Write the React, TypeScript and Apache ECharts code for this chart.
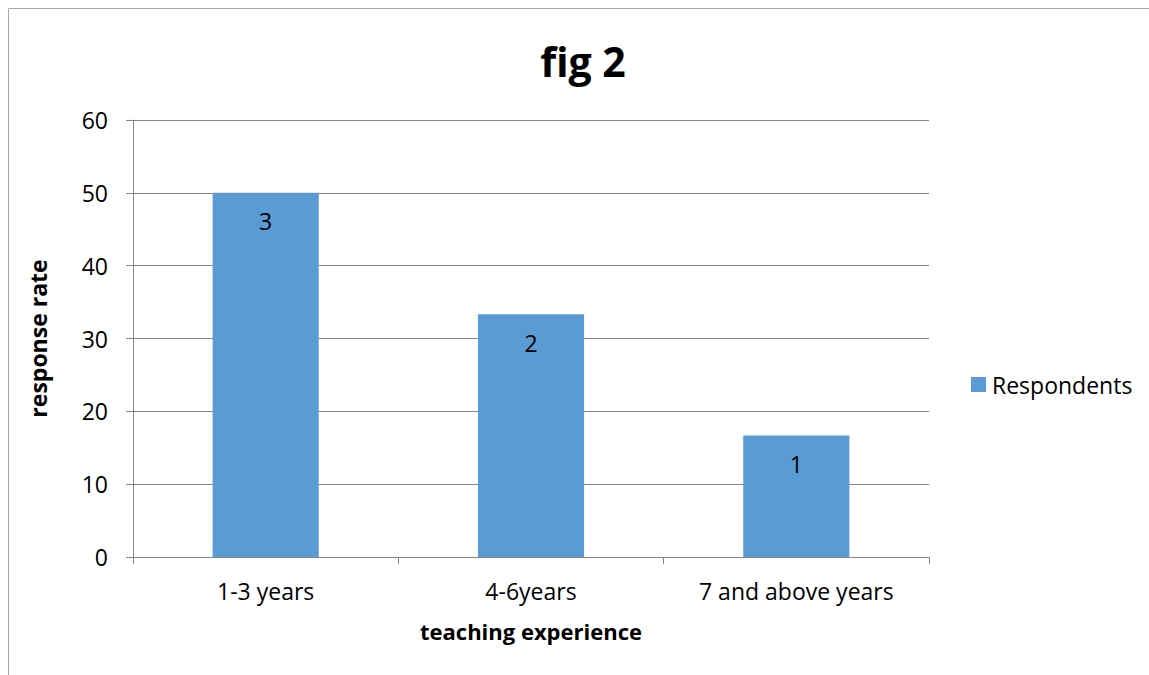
import React, { useEffect, useRef } from "react";
import * as echarts from "echarts";

const categories = ["1-3 years", "4-6years", "7 and above years"];
const responseRate = [50, 33.33, 16.67];
const respondents = [3, 2, 1];
const seriesName = "Respondents";
const titleText = "fig 2";
const xName = "teaching experience";
const yName = "response rate";

const FONT = "'Open Sans', 'Noto Sans', sans-serif";

export default function App() {
  const ref = useRef<HTMLDivElement>(null);
  useEffect(() => {
    const chart = echarts.init(ref.current!, undefined, { renderer: "svg" });
    chart.setOption({
      animation: false,
      backgroundColor: "#ffffff",
      textStyle: { fontFamily: FONT },
      title: {
        text: titleText,
        left: 578,
        top: 35,
        textAlign: "center",
        textStyle: { fontSize: 41, fontWeight: "bold", color: "#000", fontFamily: FONT },
      },
      graphic: [
        {
          type: "rect",
          shape: { x: 8.5, y: 8.5, width: 1300, height: 800 },
          style: { fill: "none", stroke: "#a6a6a6", lineWidth: 1 },
          silent: true,
        },
      ],
      legend: {
        left: 966,
        top: 368,
        itemWidth: 15,
        itemHeight: 15,
        itemGap: 10,
        data: [{ name: seriesName, icon: "rect" }],
        textStyle: { fontSize: 23, color: "#000", fontFamily: FONT, padding: [0, 0, 0, 1] },
      },
      grid: { left: 133, right: 220, top: 120, bottom: 118 },
      xAxis: {
        type: "category",
        data: categories,
        name: xName,
        nameLocation: "middle",
        nameGap: 63,
        nameTextStyle: { fontSize: 22, fontWeight: "bold", color: "#000", fontFamily: FONT },
        axisLine: { show: true, lineStyle: { color: "#868686", width: 1 } },
        axisTick: { show: true, length: 7, alignWithLabel: false, lineStyle: { color: "#868686" } },
        axisLabel: { fontSize: 23, color: "#000", margin: 22, fontFamily: FONT },
      },
      yAxis: {
        type: "value",
        min: 0,
        max: 60,
        interval: 10,
        name: yName,
        nameLocation: "middle",
        nameGap: 84,
        nameRotate: 90,
        nameTextStyle: { fontSize: 23, fontWeight: "bold", color: "#000", fontFamily: FONT },
        axisLine: { show: true, lineStyle: { color: "#868686", width: 1 } },
        axisTick: { show: true, length: 7, lineStyle: { color: "#868686" } },
        axisLabel: { fontSize: 23, color: "#000", margin: 25, fontFamily: FONT },
        splitLine: { show: true, lineStyle: { color: "#868686", width: 1 } },
      },
      series: [
        {
          name: seriesName,
          type: "bar",
          data: responseRate,
          barWidth: "40%",
          itemStyle: { color: "#5B9BD5" },
          label: {
            show: true,
            position: "insideTop",
            distance: 17,
            fontSize: 23,
            color: "#000",
            fontFamily: FONT,
            formatter: (p: any) => String(respondents[p.dataIndex]),
          },
        },
      ],
    });
    return () => chart.dispose();
  }, []);
  return (
    <div
      ref={ref}
      style={{ position: "absolute", left: 0, top: 0, width: 1149, height: 675 }}
    />
  );
}
